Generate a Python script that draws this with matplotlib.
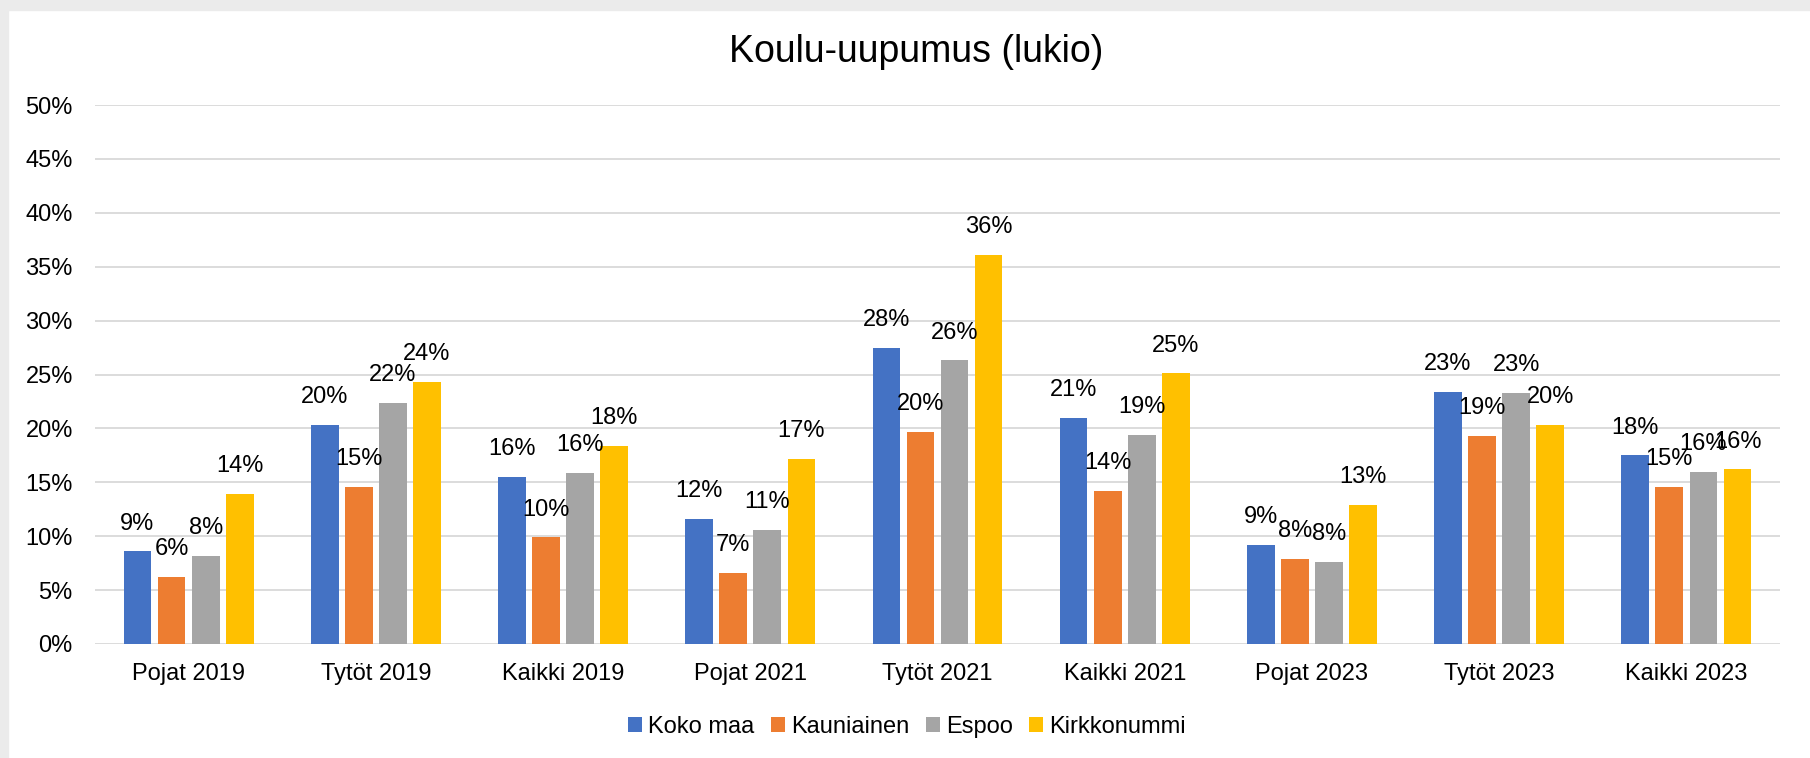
import numpy as np
import matplotlib.pyplot as plt
from matplotlib.patches import Rectangle
from matplotlib.ticker import FuncFormatter

plt.rcParams['font.family'] = ['Liberation Sans', 'DejaVu Sans']

# Koulu-uupumus (lukio), % of students
categories = ["Pojat 2019", "Tytöt 2019", "Kaikki 2019",
              "Pojat 2021", "Tytöt 2021", "Kaikki 2021",
              "Pojat 2023", "Tytöt 2023", "Kaikki 2023"]
series = ["Koko maa", "Kauniainen", "Espoo", "Kirkkonummi"]
koko_maa = [8.6, 20.3, 15.5, 11.6, 27.5, 21.0, 9.2, 23.4, 17.5]
kauniainen = [6.2, 14.6, 9.9, 6.6, 19.7, 14.2, 7.9, 19.3, 14.6]
espoo = [8.2, 22.4, 15.9, 10.6, 26.3, 19.4, 7.6, 23.3, 16.0]
kirkkonummi = [13.9, 24.3, 18.4, 17.2, 36.1, 25.1, 12.9, 20.3, 16.2]
colors = ["#4472C4", "#ED7D31", "#A5A5A5", "#FFC000"]

fig = plt.figure(figsize=(18.1, 7.58), dpi=100)
# grey frame strips at top and left edge
fig.patches.append(Rectangle((0, 1 - 10/758), 1, 10/758, transform=fig.transFigure,
                             color="#ebebeb", zorder=-1))
fig.patches.append(Rectangle((0, 0), 8/1810, 1, transform=fig.transFigure,
                             color="#ebebeb", zorder=-1))

ax = fig.add_axes([95/1810, 1 - 644/758, 1685/1810, (644 - 105)/758])

x = np.arange(len(categories))
pitch = 0.182
width = 0.148
for j, (name, vals) in enumerate(zip(series, [koko_maa, kauniainen, espoo, kirkkonummi])):
    pos = x + (j - 1.5) * pitch
    ax.bar(pos, vals, width, color=colors[j], label=name, zorder=3)
    for px, v in zip(pos, vals):
        ax.annotate(f"{v:.0f}%", (px, v), xytext=(0, 20), textcoords="offset points",
                    ha="center", va="center", fontsize=17, color="#000000", zorder=4)

ax.set_xlim(-0.5, len(categories) - 0.5)
ax.set_ylim(0, 50)
ax.set_yticks(np.arange(0, 51, 5))
ax.yaxis.set_major_formatter(FuncFormatter(lambda v, p: f"{v:.0f}%"))
ax.set_xticks(x)
ax.set_xticklabels(categories)
ax.grid(axis="y", color="#d9d9d9", linewidth=1.3, zorder=0)
for s in ax.spines.values():
    s.set_visible(False)
ax.tick_params(axis="both", length=0, labelsize=17, colors="#000000")
ax.tick_params(axis="x", pad=14)
ax.tick_params(axis="y", pad=16)

fig.suptitle("Koulu-uupumus (lukio)", x=0.506, y=1 - 52/758, va="center", fontsize=27)

fig.legend(loc="center", bbox_to_anchor=(907/1810, 1 - 727/758), ncol=4, frameon=False,
           fontsize=17, handlelength=0.6, handleheight=0.6, handletextpad=0.25,
           columnspacing=0.7)

fig.savefig("out.png", dpi=100, facecolor="white")
